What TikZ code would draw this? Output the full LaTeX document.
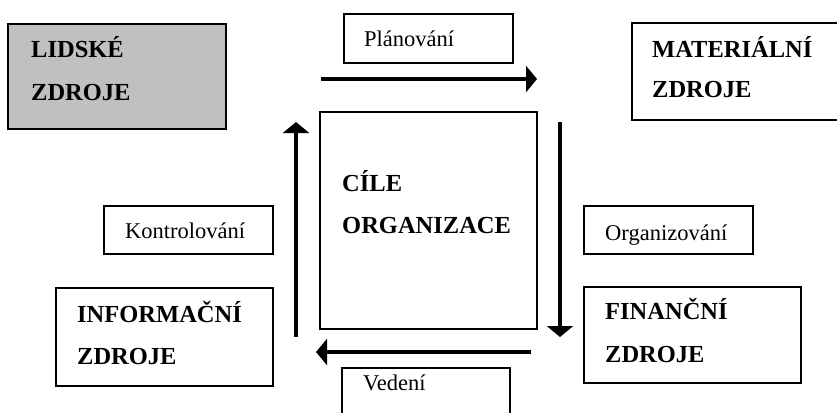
\documentclass[tikz,border=0pt]{standalone}
\usepackage{fontspec}
\setmainfont{Liberation Serif}
\usetikzlibrary{arrows.meta}
\definecolor{boxgray}{HTML}{C0C0C0}
\tikzset{
  box/.style={draw=black, line width=1.4pt},
  bold/.style={anchor=base west, inner sep=0pt, font=\fontsize{24.5}{29}\selectfont\bfseries},
  reg/.style={anchor=base west, inner sep=0pt, font=\fontsize{22.5}{27}\selectfont},
  flow/.style={line width=3.4pt, -{Triangle[length=11pt 0 0,width=26pt 0 0]}}
}
\begin{document}
\begin{tikzpicture}[x=1pt,y=-1pt]
\useasboundingbox (0,0) rectangle (837,412);
\clip (0,0) rectangle (837,412);
% boxes
\draw[box, fill=boxgray] (8,24) rectangle (226,129);
\draw[box] (344,14) rectangle (513,63);
\draw[box] (632,23) rectangle (850,120);
\draw[box] (320,112) rectangle (537,329);
\draw[box] (104,206) rectangle (273,254);
\draw[box] (584,206) rectangle (753,254);
\draw[box] (56,288) rectangle (273,386);
\draw[box] (584,287) rectangle (801,383);
\draw[box] (342,368) rectangle (510,430);
% texts
\node[bold] (lid1) at (31,58) {LIDSKÉ};
\node[bold] (lid2) at (31,100) {ZDROJE};
\node[reg] (plan) at (364,46) {Plánování};
\node[bold] (mat1) at (652,58) {MATERIÁLNÍ};
\node[bold] (mat2) at (652,97) {ZDROJE};
\node[bold] (cil1) at (342,191) {CÍLE};
\node[bold] (cil2) at (342,233) {ORGANIZACE};
\node[reg] (kont) at (125,238) {Kontrolování};
\node[reg] (org) at (605,240) {Organizování};
\node[bold] (inf1) at (77,322) {INFORMAČNÍ};
\node[bold] (inf2) at (77,364) {ZDROJE};
\node[bold] (fin1) at (605,319) {FINANČNÍ};
\node[bold] (fin2) at (605,362) {ZDROJE};
\node[reg] (ved) at (363,390) {Vedení};
% arrows
\coordinate (a1) at (321,79);  \coordinate (b1) at (537,79);
\coordinate (a2) at (560,122); \coordinate (b2) at (560,337);
\coordinate (a3) at (531,352); \coordinate (b3) at (316,352);
\coordinate (a4) at (296,337); \coordinate (b4) at (296,122);
\draw[flow] (a1) -- (b1);
\draw[flow] (a2) -- (b2);
\draw[flow] (a3) -- (b3);
\draw[flow] (a4) -- (b4);
\end{tikzpicture}
\end{document}
